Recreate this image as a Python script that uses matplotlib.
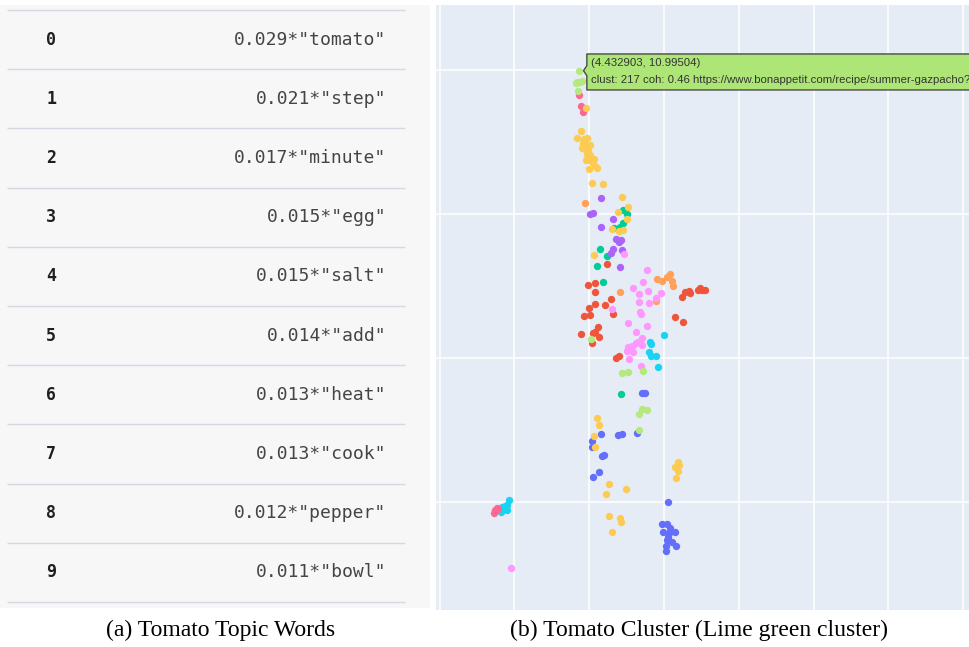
import matplotlib.pyplot as plt
from matplotlib.patches import Polygon
from matplotlib import transforms

# (a) topic words table
topic_ids = list(range(10))
topic_weights = [0.029, 0.021, 0.017, 0.015, 0.015, 0.014, 0.013, 0.013, 0.012, 0.011]
topic_words = ["tomato", "step", "minute", "egg", "salt", "add", "heat", "cook", "pepper", "bowl"]

# (b) cluster scatter, one pair of arrays per cluster colour
lime_x = [4.433, 4.418, 4.438, 4.452, 4.412, 4.427, 4.510, 4.717, 4.761, 4.862, 4.855, 4.884, 4.833, 4.833]
lime_y = [10.995, 10.917, 10.917, 10.924, 10.910, 10.854, 9.135, 8.898, 8.905, 8.910, 8.644, 8.637, 8.609, 8.498]

rose_x = [4.432, 4.443, 4.457, 3.864, 3.872, 3.882, 3.890]
rose_y = [10.828, 10.752, 10.708, 7.926, 7.944, 7.956, 7.953]

yellow_x = [4.481, 4.443, 4.420, 4.467, 4.483, 4.460, 4.479, 4.505, 4.452, 4.472, 4.494, 4.483, 4.505,
            4.477, 4.497, 4.534, 4.521, 4.501, 4.539, 4.554, 4.517, 4.590, 4.721, 4.761, 4.694, 4.751,
            4.652, 4.701, 4.728, 4.532, 4.550, 4.567, 4.530, 4.537, 4.634, 4.746, 4.612, 5.093, 5.098,
            5.075, 5.091, 5.082, 4.630, 4.704, 4.711, 4.652]
yellow_y = [10.734, 10.578, 10.530, 10.521, 10.526, 10.491, 10.479, 10.479, 10.456, 10.449, 10.440, 10.417,
            10.410, 10.375, 10.375, 10.384, 10.363, 10.310, 10.333, 10.317, 10.213, 10.208, 10.120, 10.047,
            10.012, 9.963, 9.894, 9.882, 9.889, 9.713, 8.586, 8.535, 8.458, 8.382, 8.127, 8.090, 8.056,
            8.276, 8.257, 8.245, 8.213, 8.169, 7.901, 7.887, 7.859, 7.794]

purple_x = [4.579, 4.505, 4.527, 4.656, 4.577, 4.679, 4.699, 4.711, 4.661, 4.648, 4.721, 4.704]
purple_y = [10.113, 10.000, 10.009, 9.964, 9.908, 9.826, 9.804, 9.819, 9.757, 9.731, 9.748, 9.634]

orange_x = [4.469, 4.708, 4.951, 4.985, 5.018, 5.040, 5.055, 5.062, 4.947]
orange_y = [10.074, 9.458, 9.547, 9.535, 9.565, 9.581, 9.535, 9.500, 9.398]

green_x = [4.726, 4.751, 4.728, 4.708, 4.668, 4.574, 4.617, 4.550, 4.594, 4.712]
green_y = [10.028, 9.997, 9.935, 9.910, 9.903, 9.759, 9.710, 9.641, 9.528, 8.752]

pink_x = [4.735, 4.884, 4.862, 4.795, 4.893, 4.833, 4.980, 4.944, 4.835, 4.900, 4.654, 4.840, 4.848,
          4.761, 4.888, 4.811, 4.851, 4.828, 4.811, 4.761, 4.788, 4.751, 4.795, 4.855, 4.768, 4.846, 3.977]
pink_y = [9.724, 9.611, 9.530, 9.488, 9.467, 9.444, 9.453, 9.419, 9.387, 9.384, 9.340, 9.317, 9.306,
          9.243, 9.222, 9.181, 9.139, 9.113, 9.102, 9.079, 9.083, 9.049, 9.040, 9.088, 8.991, 8.947, 7.540]

red_x = [4.617, 4.490, 4.541, 4.539, 4.648, 4.537, 4.604, 4.501, 4.661, 4.463, 4.505, 5.118, 5.140,
         5.169, 5.174, 5.229, 5.241, 5.252, 5.272, 5.071, 5.127, 4.557, 4.447, 4.523, 4.539, 4.567,
         4.521, 4.677, 4.697]
red_y = [9.655, 9.505, 9.521, 9.456, 9.412, 9.375, 9.368, 9.349, 9.306, 9.290, 9.297, 9.424, 9.458,
         9.467, 9.454, 9.472, 9.486, 9.472, 9.472, 9.287, 9.250, 9.213, 9.167, 9.172, 9.183, 9.148,
         9.102, 9.000, 9.016]

cyan_x = [5.002, 4.906, 4.915, 4.902, 4.913, 4.946, 4.960, 3.910, 3.919, 3.937, 3.949, 3.953, 3.966]
cyan_y = [9.160, 9.109, 9.095, 9.040, 9.014, 9.014, 8.935, 7.929, 7.963, 7.974, 7.979, 7.947, 8.016]

blue_x = [4.855, 4.875, 4.577, 4.692, 4.719, 4.819, 4.521, 4.521, 4.586, 4.597, 4.563, 4.527, 5.029,
          4.989, 5.022, 5.038, 4.993, 5.073, 5.033, 5.025, 5.018, 5.053, 5.078, 5.015, 5.013]
blue_y = [8.759, 8.755, 8.474, 8.465, 8.470, 8.481, 8.426, 8.382, 8.320, 8.324, 8.211, 8.176, 7.998,
          7.849, 7.845, 7.818, 7.790, 7.790, 7.783, 7.759, 7.736, 7.722, 7.694, 7.694, 7.660]

hover_x, hover_y = 4.432903, 10.99504
hover_clust, hover_coh = 217, 0.46
hover_url = "https://www.bonappetit.com/recipe/summer-gazpacho?"

fig = plt.figure(figsize=(9.69, 6.47), dpi=100)

# ---- left panel: table ----
axt = fig.add_axes([0, 39 / 647, 430 / 969, 603 / 647])
axt.set_facecolor("#f7f7f8")
axt.set_xlim(0, 430)
axt.set_ylim(10.10, -0.084)
for s in axt.spines.values():
    s.set_visible(False)
axt.set_xticks([])
axt.set_yticks([])
axt.hlines(range(11), 7, 405, color="#d3d8e2", lw=1.0)
for i, w, word in zip(topic_ids, topic_weights, topic_words):
    axt.text(46, i + 0.5, str(i), family="DejaVu Sans Mono", fontweight="bold",
             fontsize=12, color="#1f1f1f", ha="left", va="center")
    axt.text(386, i + 0.5, f'{w:.3f}*"{word}"', family="DejaVu Sans Mono",
             fontsize=13, color="#454545", ha="right", va="center")

# ---- right panel: scatter ----
ax = fig.add_axes([436 / 969, 37 / 647, 533 / 969, 605 / 647])
ax.set_facecolor("#E5ECF6")
ax.set_xlim(3.476, 7.039)
ax.set_ylim(7.25, 11.451)
for s in ax.spines.values():
    s.set_visible(False)
ax.set_xticks([3.5, 4.0, 4.5, 5.0, 5.5, 6.0, 6.5, 7.0])
ax.set_yticks([8, 9, 10, 11])
ax.tick_params(length=0, labelbottom=False, labelleft=False)
ax.grid(True, color="white", lw=1.1)
ax.set_axisbelow(True)

clusters = [
    (blue_x, blue_y, "#636EFA"),
    (red_x, red_y, "#EF553B"),
    (green_x, green_y, "#00CC96"),
    (purple_x, purple_y, "#AB63FA"),
    (orange_x, orange_y, "#FFA15A"),
    (cyan_x, cyan_y, "#19D3F3"),
    (rose_x, rose_y, "#FF6692"),
    (pink_x, pink_y, "#FF97FF"),
    (yellow_x, yellow_y, "#FECB52"),
    (lime_x, lime_y, "#B6E880"),
]
for xs, ys, c in clusters:
    ax.scatter(xs, ys, s=28, color=c, linewidths=0, zorder=3)

# hover label, anchored to the hovered point (offsets in inches)
trans = fig.dpi_scale_trans + transforms.ScaledTranslation(hover_x, hover_y, ax.transData)
verts = [(0.044, 0.0), (0.077, 0.05), (0.077, 0.167), (4.3, 0.167),
         (4.3, -0.193), (0.077, -0.193), (0.077, -0.05)]
ax.add_patch(Polygon(verts, closed=True, transform=trans, facecolor="#ade676",
                     edgecolor="#4a4a4a", lw=1.0, clip_on=False, zorder=5))
ax.text(0.115, 0.077, f"({hover_x}, {hover_y})", transform=trans, fontsize=8.2,
        family="Liberation Sans", color="#333333", va="center", ha="left",
        clip_on=False, zorder=6)
ax.text(0.115, -0.093, f"clust: {hover_clust} coh: {hover_coh} {hover_url}",
        transform=trans, fontsize=8.2, family="Liberation Sans", color="#333333",
        va="center", ha="left", clip_on=False, zorder=6)

# captions
fig.text(221 / 969, 1 - 630 / 647, "(a) Tomato Topic Words", family="Liberation Serif",
         fontsize=17, ha="center", va="center")
fig.text(699 / 969, 1 - 630 / 647, "(b) Tomato Cluster (Lime green cluster)",
         family="Liberation Serif", fontsize=17, ha="center", va="center")

fig.savefig("out.png", dpi=100)
